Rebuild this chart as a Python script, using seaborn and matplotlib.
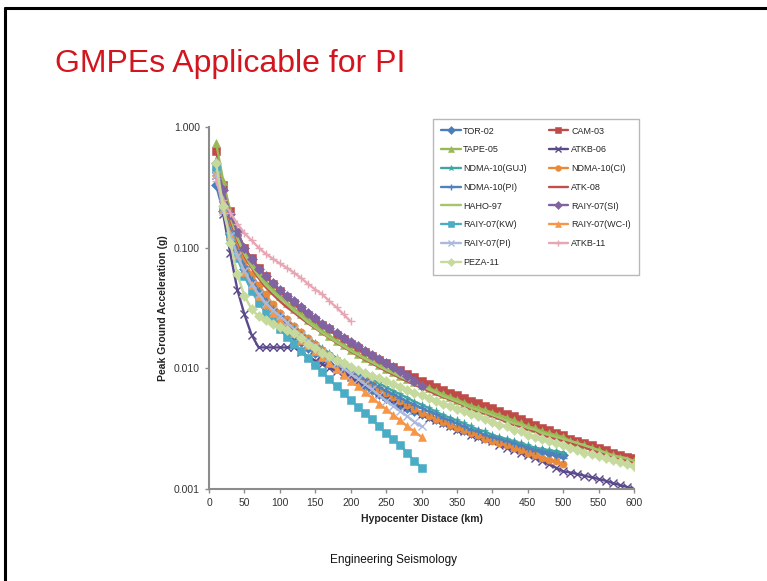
import matplotlib
matplotlib.use('Agg')
import matplotlib.pyplot as plt
from matplotlib.lines import Line2D
from matplotlib.ticker import FixedLocator, NullLocator, FuncFormatter
import seaborn as sns

# Configuration
sns.set_theme(style='white')
plt.rcParams['font.family'] = ['Liberation Sans', 'DejaVu Sans']

# Distance grid (km) shared by all curves; shorter curves use the first values
distance = [10, 20, 30, 40, 50, 60, 70, 80, 90, 100,
            110, 120, 130, 140, 150, 160, 170, 180, 190, 200,
            210, 220, 230, 240, 250, 260, 270, 280, 290, 300,
            310, 320, 330, 340, 350, 360, 370, 380, 390, 400,
            410, 420, 430, 440, 450, 460, 470, 480, 490, 500,
            510, 520, 530, 540, 550, 560, 570, 580, 590, 600]

# Peak ground acceleration (g)
tor_02 = [0.33, 0.2, 0.13, 0.09, 0.066, 0.051, 0.041, 0.034, 0.0285, 0.024,
          0.021, 0.0185, 0.0165, 0.0148, 0.0133, 0.012, 0.0109, 0.01, 0.0092, 0.0084,
          0.0077, 0.0071, 0.0066, 0.0061, 0.0057, 0.0053, 0.005, 0.0047, 0.0044, 0.0042,
          0.004, 0.0038, 0.0036, 0.0034, 0.0032, 0.0031, 0.0029, 0.0028, 0.0027, 0.0026,
          0.0025, 0.0024, 0.0023, 0.0022, 0.00215, 0.0021, 0.00205, 0.002, 0.00195, 0.0019]
cam_03 = [0.63, 0.33, 0.2, 0.135, 0.1, 0.082, 0.068, 0.058, 0.05, 0.044,
          0.039, 0.035, 0.031, 0.0275, 0.025, 0.023, 0.021, 0.019, 0.0175, 0.016,
          0.0148, 0.0136, 0.0127, 0.0118, 0.011, 0.0103, 0.0096, 0.009, 0.0084, 0.0079,
          0.0074, 0.007, 0.0066, 0.0063, 0.006, 0.0057, 0.0054, 0.0052, 0.0049, 0.0047,
          0.0044, 0.0042, 0.004, 0.0038, 0.0036, 0.0034, 0.0032, 0.0031, 0.0029, 0.0028,
          0.0026, 0.0025, 0.0024, 0.0023, 0.0022, 0.0021, 0.002, 0.0019, 0.00185, 0.0018]
tape_05 = [0.74, 0.36, 0.2, 0.13, 0.095, 0.075, 0.062, 0.052, 0.045, 0.04,
           0.035, 0.031, 0.028, 0.025, 0.0227, 0.0205, 0.0187, 0.017, 0.0156, 0.0143,
           0.0132, 0.0122, 0.0114, 0.0106, 0.0099, 0.0093, 0.0087, 0.0082, 0.0077, 0.0073,
           0.0069, 0.0065, 0.0061, 0.0058, 0.0055, 0.0052, 0.0049, 0.0047, 0.0045, 0.0043,
           0.0041, 0.0039, 0.0037, 0.0035, 0.0033, 0.0032, 0.003, 0.0029, 0.0028, 0.0027,
           0.0025, 0.0024, 0.0023, 0.0022, 0.0021, 0.002, 0.0019, 0.0018, 0.00175, 0.0017]
atkb_06 = [0.4, 0.19, 0.09, 0.045, 0.028, 0.019, 0.0149, 0.0149, 0.0149, 0.0149,
           0.0149, 0.0149, 0.0137, 0.0125, 0.0116, 0.0108, 0.0101, 0.0095, 0.009, 0.0085,
           0.0079, 0.0073, 0.0068, 0.0063, 0.0059, 0.0055, 0.0051, 0.0048, 0.0045, 0.0042,
           0.0039, 0.0037, 0.0035, 0.0033, 0.0031, 0.003, 0.0028, 0.0027, 0.0026, 0.0025,
           0.0023, 0.0022, 0.0021, 0.002, 0.0019, 0.0018, 0.0017, 0.0016, 0.0015, 0.0014,
           0.00137, 0.00133, 0.00129, 0.00125, 0.00121, 0.00117, 0.00112, 0.00108, 0.00104, 0.001]
ndma_10_guj = [0.42, 0.23, 0.145, 0.1, 0.073, 0.057, 0.046, 0.038, 0.033, 0.029,
               0.0255, 0.0225, 0.02, 0.018, 0.0163, 0.0147, 0.0134, 0.0122, 0.0112, 0.0103,
               0.0095, 0.0088, 0.0081, 0.0075, 0.007, 0.0065, 0.0061, 0.0057, 0.0053, 0.005,
               0.0047, 0.0044, 0.0041, 0.0039, 0.0037, 0.0035, 0.0033, 0.0031, 0.003, 0.0028,
               0.0027, 0.0026, 0.0025, 0.0024, 0.0023, 0.0022, 0.00215, 0.0021, 0.00205, 0.002]
ndma_10_ci = [0.45, 0.25, 0.155, 0.105, 0.077, 0.06, 0.049, 0.041, 0.034, 0.029,
              0.0255, 0.0225, 0.02, 0.0178, 0.016, 0.0143, 0.013, 0.0117, 0.0107, 0.0097,
              0.0089, 0.0081, 0.0074, 0.0068, 0.0063, 0.0058, 0.0054, 0.005, 0.0046, 0.0043,
              0.004, 0.0038, 0.0036, 0.0034, 0.0032, 0.0031, 0.0029, 0.0028, 0.0026, 0.0025,
              0.0024, 0.0023, 0.0022, 0.0021, 0.002, 0.0019, 0.0018, 0.00175, 0.0017, 0.0016]
ndma_10_pi = [0.4, 0.22, 0.14, 0.095, 0.07, 0.054, 0.044, 0.036, 0.031, 0.027,
              0.0238, 0.021, 0.0188, 0.0168, 0.0152, 0.0137, 0.0125, 0.0114, 0.0105, 0.0096,
              0.0089, 0.0082, 0.0076, 0.007, 0.0065, 0.0061, 0.0057, 0.0053, 0.005, 0.0047,
              0.0044, 0.0042, 0.0039, 0.0037, 0.0035, 0.0033, 0.0031, 0.003, 0.0028, 0.0027,
              0.0026, 0.0025, 0.0024, 0.0023, 0.0022, 0.0021, 0.00205, 0.002, 0.0019, 0.0018]
atk_08 = [0.5, 0.28, 0.17, 0.115, 0.085, 0.068, 0.056, 0.047, 0.041, 0.036,
          0.032, 0.029, 0.026, 0.0235, 0.0215, 0.0195, 0.0178, 0.0163, 0.015, 0.0138,
          0.0128, 0.0118, 0.011, 0.0102, 0.0095, 0.0089, 0.0083, 0.0078, 0.0073, 0.0069,
          0.0065, 0.0061, 0.0058, 0.0055, 0.0052, 0.0049, 0.0046, 0.0044, 0.0042, 0.004,
          0.0038, 0.0036, 0.0034, 0.0033, 0.0031, 0.003, 0.0028, 0.0027, 0.0026, 0.0025,
          0.0024, 0.0023, 0.0022, 0.0021, 0.002, 0.0019, 0.0018, 0.00175, 0.0017, 0.00165]
haho_97 = [0.55, 0.3, 0.18, 0.12, 0.088, 0.07, 0.058, 0.049, 0.043, 0.038,
           0.034, 0.03, 0.027, 0.024, 0.0218, 0.0197, 0.018, 0.0165, 0.0152, 0.014,
           0.013, 0.012, 0.0112, 0.0104, 0.0097, 0.0091, 0.0085, 0.008, 0.0075, 0.0071,
           0.0067, 0.0063, 0.0059, 0.0056, 0.0053, 0.005, 0.0047, 0.0045, 0.0043, 0.0041,
           0.0039, 0.0037, 0.0035, 0.0034, 0.0032, 0.0031, 0.0029, 0.0028, 0.0027, 0.0026,
           0.0025, 0.0024, 0.0023, 0.0022, 0.0021, 0.002, 0.0019, 0.00185, 0.0018, 0.0017]
raiy_07_si = [0.5, 0.3, 0.19, 0.135, 0.1, 0.08, 0.067, 0.058, 0.051, 0.045,
              0.04, 0.036, 0.032, 0.029, 0.026, 0.0235, 0.0215, 0.0195, 0.018, 0.0165,
              0.0152, 0.014, 0.013, 0.012, 0.0111, 0.0103, 0.0095, 0.0087, 0.0079, 0.0072]
raiy_07_kw = [0.45, 0.21, 0.125, 0.082, 0.058, 0.044, 0.035, 0.029, 0.025, 0.021,
              0.0183, 0.016, 0.014, 0.0122, 0.0106, 0.0093, 0.0081, 0.0071, 0.0062, 0.0055,
              0.0048, 0.0043, 0.0038, 0.0033, 0.0029, 0.0026, 0.0023, 0.002, 0.0017, 0.0015]
raiy_07_wci = [0.42, 0.21, 0.13, 0.087, 0.063, 0.049, 0.04, 0.034, 0.029, 0.025,
               0.022, 0.0195, 0.0173, 0.0155, 0.0138, 0.0123, 0.011, 0.0098, 0.0088, 0.0079,
               0.0071, 0.0064, 0.0057, 0.0051, 0.0046, 0.0041, 0.0037, 0.0033, 0.003, 0.0027]
raiy_07_pi = [0.4, 0.2, 0.125, 0.086, 0.064, 0.05, 0.041, 0.035, 0.0305, 0.027,
              0.024, 0.0212, 0.019, 0.017, 0.0153, 0.0137, 0.0124, 0.0111, 0.01, 0.009,
              0.0082, 0.0074, 0.0067, 0.006, 0.0054, 0.0049, 0.0044, 0.004, 0.0036, 0.0033]
atkb_11 = [0.355, 0.25, 0.195, 0.158, 0.132, 0.115, 0.1, 0.089, 0.081, 0.074,
           0.068, 0.062, 0.056, 0.05, 0.045, 0.041, 0.036, 0.032, 0.028, 0.0245]
peza_11 = [0.5, 0.22, 0.11, 0.06, 0.04, 0.031, 0.027, 0.025, 0.0235, 0.022,
           0.0207, 0.0195, 0.0177, 0.016, 0.0147, 0.0135, 0.0126, 0.0117, 0.011, 0.0103,
           0.0097, 0.0092, 0.0087, 0.0083, 0.0078, 0.0074, 0.007, 0.0066, 0.0063, 0.006,
           0.0057, 0.0054, 0.0051, 0.0049, 0.0046, 0.0044, 0.0042, 0.004, 0.0038, 0.0036,
           0.0034, 0.0033, 0.0031, 0.003, 0.0028, 0.0027, 0.0026, 0.0025, 0.0024, 0.0023,
           0.0022, 0.0021, 0.002, 0.00195, 0.00187, 0.0018, 0.00173, 0.00167, 0.0016, 0.00155]

# (label, values, colour, marker)
series = [
    ('TOR-02', tor_02, '#4A7EBB', 'D'),
    ('CAM-03', cam_03, '#BE4B48', 's'),
    ('TAPE-05', tape_05, '#98B954', '^'),
    ('ATKB-06', atkb_06, '#5B4A8B', 'x'),
    ('NDMA-10(GUJ)', ndma_10_guj, '#3FA7A3', '*'),
    ('NDMA-10(CI)', ndma_10_ci, '#E98A3B', 'o'),
    ('NDMA-10(PI)', ndma_10_pi, '#4F81BD', '+'),
    ('ATK-08', atk_08, '#C0504D', None),
    ('HAHO-97', haho_97, '#A5C56A', None),
    ('RAIY-07(SI)', raiy_07_si, '#8064A2', 'D'),
    ('RAIY-07(KW)', raiy_07_kw, '#4BACC6', 's'),
    ('RAIY-07(WC-I)', raiy_07_wci, '#F79646', '^'),
    ('RAIY-07(PI)', raiy_07_pi, '#AAB9DD', 'x'),
    ('ATKB-11', atkb_11, '#E6A6B4', '+'),
    ('PEZA-11', peza_11, '#C6DA9E', 'D'),
]

fig = plt.figure(figsize=(7.67, 5.81), dpi=100)
fig.patch.set_facecolor('white')
ax = fig.add_axes([209 / 767, 1 - 489 / 581, 425 / 767, 362 / 581])

handles = {}
for name, vals, color, marker in series:
    d = distance[:len(vals)]
    kw = dict(color=color, linewidth=1.7, estimator=None, legend=False)
    if marker is not None:
        kw.update(marker=marker, markersize=5.2, markeredgecolor=color,
                  markeredgewidth=1.0 if marker in ('x', '+') else 0.4)
    sns.lineplot(x=d, y=vals, ax=ax, **kw)
    handles[name] = ax.lines[-1]

ax.set_yscale('log')
ax.set_ylim(0.001, 1.0)
ax.set_xlim(0, 600)
ax.yaxis.set_major_locator(FixedLocator([0.001, 0.01, 0.1, 1.0]))
ax.yaxis.set_minor_locator(NullLocator())
ax.yaxis.set_major_formatter(FuncFormatter(lambda v, p: f'{v:.3f}'))
ax.set_xticks(range(0, 601, 50))

sns.despine(ax=ax)
for side in ['left', 'bottom']:
    ax.spines[side].set_color('#8C8C8C')
    ax.spines[side].set_linewidth(1.5)
ax.tick_params(axis='both', which='major', labelsize=7.5, labelcolor='#333333',
               color='#8C8C8C', length=3, width=1, direction='out',
               left=True, bottom=True)

ax.set_xlabel('Hypocenter Distace (km)', fontsize=7.5, fontweight='bold', color='#222222', labelpad=4)
ax.set_ylabel('Peak Ground Acceleration (g)', fontsize=7.5, fontweight='bold', color='#222222', labelpad=4)

# Legend: two columns like the Excel legend
order = ['TOR-02', 'TAPE-05', 'NDMA-10(GUJ)', 'NDMA-10(PI)', 'HAHO-97', 'RAIY-07(KW)', 'RAIY-07(PI)', 'PEZA-11',
         'CAM-03', 'ATKB-06', 'NDMA-10(CI)', 'ATK-08', 'RAIY-07(SI)', 'RAIY-07(WC-I)', 'ATKB-11']
leg = ax.legend([handles[n] for n in order], order, ncol=2, loc='upper left',
                bbox_to_anchor=(428 / 767, 1 - 114 / 581), bbox_transform=fig.transFigure,
                fontsize=6.5, frameon=True, fancybox=False, edgecolor='#A6A6A6',
                labelspacing=1.08, handlelength=2.2, handletextpad=0.3,
                columnspacing=2.4, borderpad=0.9, markerscale=0.8)
leg.get_frame().set_linewidth(1.0)

# Slide decoration
fig.text(55 / 767, 1 - 64 / 581, 'GMPEs Applicable for PI', fontsize=23, color='#D2151E',
         va='center', ha='left')
fig.text(394 / 767, 1 - 560 / 581, 'Engineering Seismology', fontsize=8.5, color='#111111',
         va='center', ha='center')
fig.add_artist(Line2D([5 / 767, 1], [1 - 8 / 581, 1 - 8 / 581], color='black', linewidth=2.2,
                      transform=fig.transFigure))
fig.add_artist(Line2D([5 / 767, 5 / 767], [0, 1 - 8 / 581], color='black', linewidth=2.2,
                      transform=fig.transFigure))

fig.savefig('out.png', dpi=100)
